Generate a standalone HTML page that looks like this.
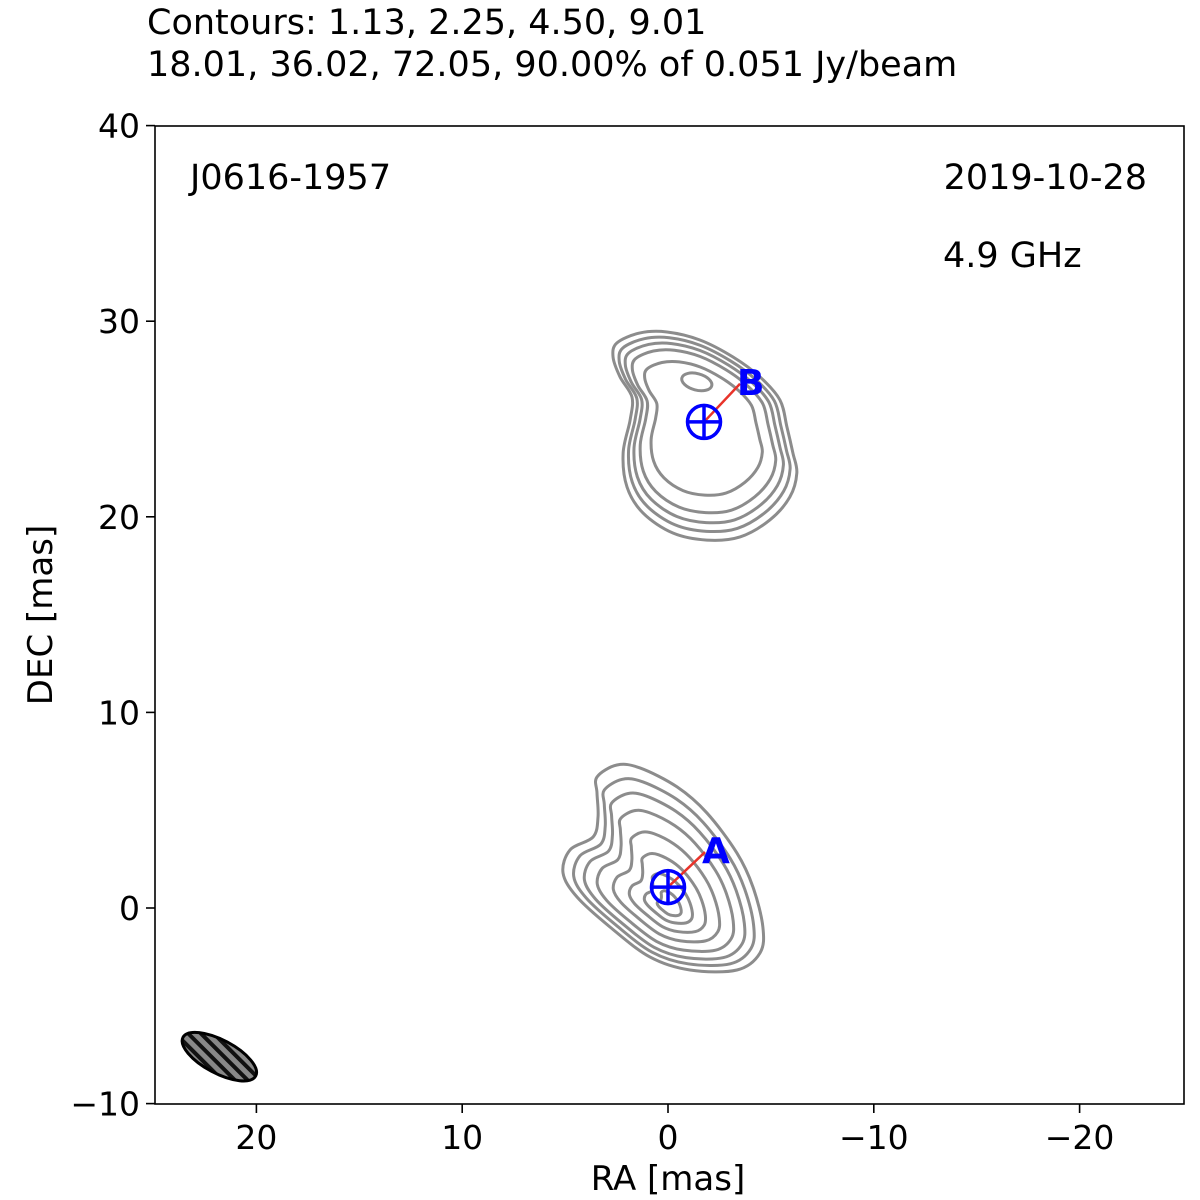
<!DOCTYPE html>
<html><head><meta charset="utf-8"><style>
html,body{margin:0;padding:0;background:#fff}
svg{display:block;font-family:"DejaVu Sans","Liberation Sans",sans-serif}
</style></head><body>
<svg id="chart" width="1200" height="1200" viewBox="0 0 1200 1200" xmlns="http://www.w3.org/2000/svg">
<defs>
<pattern id="hatch" patternUnits="userSpaceOnUse" width="9" height="9" patternTransform="rotate(-73)">
<rect width="9" height="9" fill="#888"/><rect width="4" height="9" fill="#111"/>
</pattern>
<clipPath id="plotclip"><rect x="155" y="126" width="1029" height="978"/></clipPath>
</defs>
<text x="147" y="34" font-size="35" fill="#000">Contours: 1.13, 2.25, 4.50, 9.01</text>
<text x="147" y="76" font-size="35" fill="#000">18.01, 36.02, 72.05, 90.00% of 0.051 Jy/beam</text>
<g id="contours" clip-path="url(#plotclip)"></g>
<g id="beam"></g>
<g id="markers"></g>
<rect x="155" y="126" width="1029" height="978" fill="none" stroke="#000" stroke-width="1.6"/>
<g id="axes"></g>
<text x="190" y="189" font-size="35">J0616-1957</text>
<text x="1147" y="189" font-size="35" text-anchor="end">2019-10-28</text>
<text x="943" y="267" font-size="35">4.9 GHz</text>
<text x="668" y="1190" font-size="34" text-anchor="middle">RA [mas]</text>
<text transform="translate(52,615) rotate(-90)" font-size="34" text-anchor="middle">DEC [mas]</text>
</svg>
<script>
const xTicks=[20,10,0,-10,-20];
const yTicks=[-10,0,10,20,30,40];
const outerA=[[3.45,6.70],[2.48,7.31],[1.36,7.16],[-0.44,6.19],[-1.89,4.86],[-3.35,2.81],[-4.13,1.07],[-4.61,-0.97],[-4.47,-2.30],[-3.35,-3.17],[-1.07,-3.17],[0.87,-2.51],[2.82,-0.97],[4.42,0.56],[5.10,1.79],[4.76,2.97],[3.64,3.63],[3.40,4.65],[3.45,5.88]];
const centerA=[-0.1,0.0];
const scalesA=[1,0.9,0.8,0.68,0.53,0.38,0.24,0.12];
const outerB=[[2.48,28.89],[1.36,29.40],[0.05,29.45],[-1.55,29.04],[-3.16,28.17],[-4.47,27.15],[-5.44,25.97],[-5.78,24.59],[-6.07,23.26],[-6.26,22.24],[-5.92,21.01],[-4.95,19.84],[-3.50,18.97],[-1.89,18.81],[-0.24,19.17],[1.21,20.19],[1.99,21.52],[2.18,23.26],[1.84,24.95],[1.75,26.12],[2.33,27.15],[2.67,28.17]];
const centerB=[-1.6,25.2];
const scalesB=[1,0.93,0.86,0.78,0.64];
const peakB=[-1.4,26.9];
const components=[{name:"A",pos:[0,1.07],lbl:[-1.8,2.86]},{name:"B",pos:[-1.75,24.85],lbl:[-3.5,26.8]}];
const beam={ra:21.8,dec:-7.6,major:4.0,minor:1.7,pa:62};

const X=v=>668-(v)*20.58;
const Y=v=>908-(v)*19.56;
const NS="http://www.w3.org/2000/svg";
function mk(tag,attrs,parent){const e=document.createElementNS(NS,tag);for(const k in attrs)e.setAttribute(k,attrs[k]);parent.appendChild(e);return e;}
function smooth(pts){const n=pts.length;let d=`M${pts[0][0]},${pts[0][1]}`;for(let i=0;i<n;i++){const p0=pts[(i-1+n)%n],p1=pts[i],p2=pts[(i+1)%n],p3=pts[(i+2)%n];d+=`C${p1[0]+(p2[0]-p0[0])/6},${p1[1]+(p2[1]-p0[1])/6} ${p2[0]-(p3[0]-p1[0])/6},${p2[1]-(p3[1]-p1[1])/6} ${p2[0]},${p2[1]}`;}return d+"Z";}
const cg=document.getElementById('contours');
function drawSet(outer,c,scales,tag){scales.forEach((s,i)=>{const pts=outer.map(p=>[X(c[0]+(p[0]-c[0])*s),Y(c[1]+(p[1]-c[1])*s)]);const el=mk('path',{d:smooth(pts),fill:'none',stroke:'#8c8c8c','stroke-width':3},cg);

});}
drawSet(outerA,centerA,scalesA,'a');
drawSet(outerB,centerB,scalesB,'b');
const pk=mk('ellipse',{cx:X(peakB[0]),cy:Y(peakB[1]),rx:0.75*20.58,ry:0.42*19.56,transform:`rotate(15 ${X(peakB[0])} ${Y(peakB[1])})`,fill:'none',stroke:'#8c8c8c','stroke-width':3},cg);


const mg=document.getElementById('markers');
components.forEach(c=>{const cx=X(c.pos[0]),cy=Y(c.pos[1]),lx=X(c.lbl[0]),ly=Y(c.lbl[1]);
const ln=mk('line',{x1:cx,y1:cy,x2:lx,y2:ly,stroke:'#e8332a','stroke-width':2.5},mg);


const g=mk('g',{},mg);


mk('circle',{cx:cx,cy:cy,r:16.5,fill:'none',stroke:'#0000ff','stroke-width':3.5},g);
mk('line',{x1:cx-16.5,y1:cy,x2:cx+16.5,y2:cy,stroke:'#0000ff','stroke-width':3.5},g);
mk('line',{x1:cx,y1:cy-16.5,x2:cx,y2:cy+16.5,stroke:'#0000ff','stroke-width':3.5},g);
const t=mk('text',{x:lx-3,y:ly+11,'font-size':36,'font-weight':'bold',fill:'#0000ff'},mg);t.textContent=c.name;

});
const bg=document.getElementById('beam');
const bx=X(beam.ra),by=Y(beam.dec);
const be=mk('ellipse',{cx:bx,cy:by,rx:beam.major*10.29,ry:beam.minor*9.78,transform:`rotate(${90-beam.pa} ${bx} ${by})`,fill:'url(#hatch)',stroke:'#000','stroke-width':3},bg);


const ag=document.getElementById('axes');
xTicks.forEach(v=>{const x=X(v);mk('line',{x1:x,y1:1104,x2:x,y2:1113,stroke:'#000','stroke-width':1.6},ag);const t=mk('text',{x:x,y:1149,'font-size':33,'text-anchor':'middle'},ag);t.textContent=v<0?'\u2212'+(-v):String(v);

});
yTicks.forEach(v=>{const y=Y(v);mk('line',{x1:146,y1:y,x2:155,y2:y,stroke:'#000','stroke-width':1.6},ag);const t=mk('text',{x:140,y:y+12,'font-size':33,'text-anchor':'end'},ag);t.textContent=v<0?'\u2212'+(-v):String(v);

});
</script>
</body></html>
